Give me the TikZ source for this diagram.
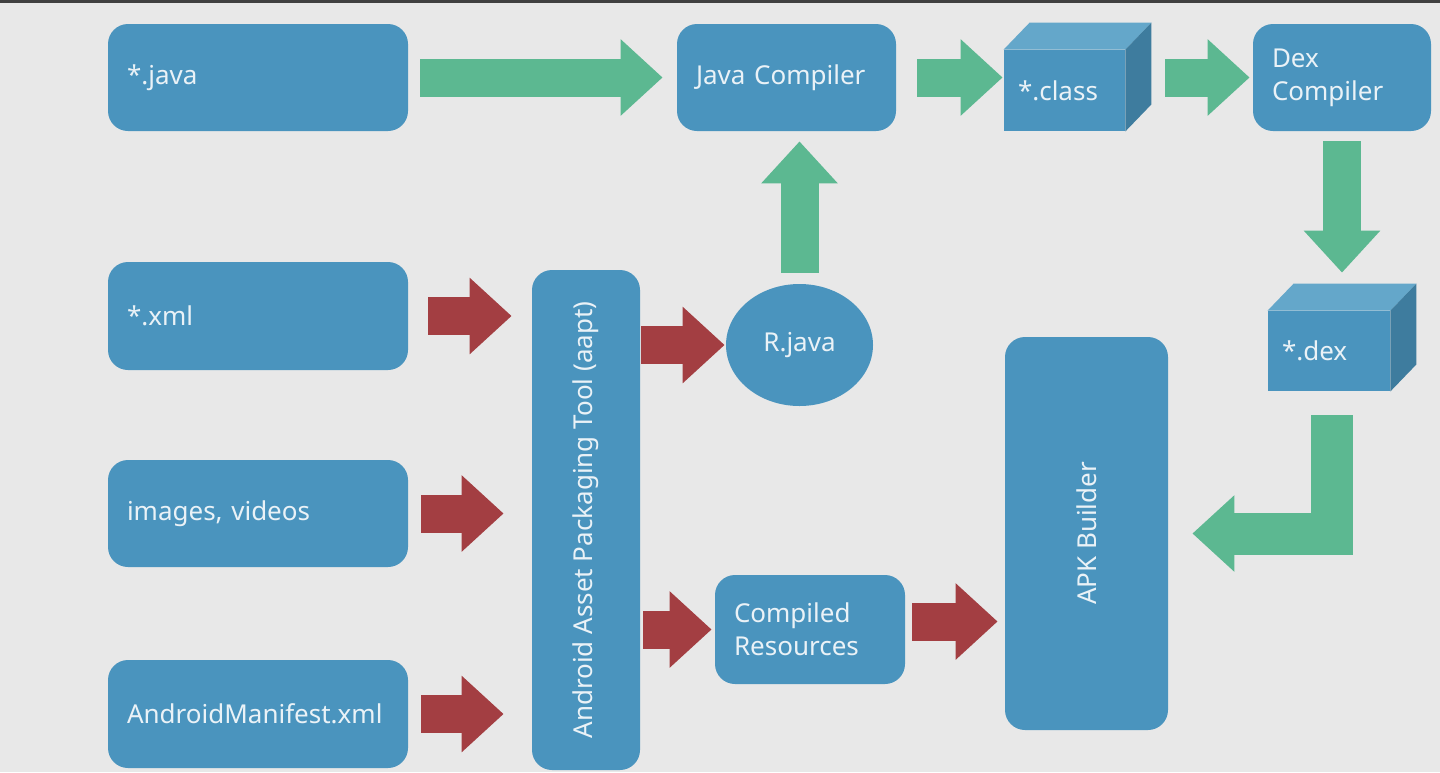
\documentclass[tikz,border=0pt]{standalone}
\usepackage{fontspec}
\setmainfont{Noto Sans}
\usepackage{graphicx}
\usetikzlibrary{arrows.meta,shapes.geometric}

\definecolor{bgGray}{HTML}{E8E8E8}
\definecolor{boxBlue}{HTML}{4A94BE}
\definecolor{boxText}{HTML}{EAF2F7}
\definecolor{cubeTop}{HTML}{64A7CA}
\definecolor{cubeSide}{HTML}{3E7C9E}
\definecolor{flowGreen}{HTML}{5CB891}
\definecolor{flowRed}{HTML}{A33E42}

\tikzset{
  box/.style={rounded corners=10pt, fill=boxBlue, text=boxText,
      font=\fontsize{13}{16.5}\selectfont, align=left, inner xsep=9.5pt, inner ysep=0pt},
  cube/.style={fill=boxBlue, text=boxText, font=\fontsize{13}{16.5}\selectfont,
      align=left, inner xsep=7pt, inner ysep=0pt},
  flow/.style={line width=19pt, -{Triangle[width=37pt,length=21pt]}},
  gflow/.style={flow, draw=flowGreen},
  rflow/.style={flow, draw=flowRed},
}
% top and side faces of a box-shaped node
\newcommand\cubefaces[1]{
  \fill[cubeTop] (#1.north west) -- ++(26,-27) -- ([shift={(26,-27)}]#1.north east) -- (#1.north east) -- cycle;
  \fill[cubeSide] (#1.north east) -- ++(26,-27) -- ([shift={(26,-27)}]#1.south east) -- (#1.south east) -- cycle;
}

\begin{document}
\begin{tikzpicture}[x=0.5pt, y=-0.5pt]
  \fill[bgGray] (0,0) rectangle (1440,772);
  \fill[black!75] (0,0) rectangle (1440,2.5);
  \useasboundingbox (0,0) rectangle (1440,772);

  % sources
  \node[box, minimum height=53.5pt, text width=131pt] (java) at (258,77.5) {*.java};
  \node[box, minimum height=54pt, text width=131pt] (xml) at (258,316) {*.xml};
  \node[box, minimum height=53.5pt, text width=131pt] (media) at (258,513.5) {images, videos};
  \node[box, minimum height=54pt, text width=131pt] (manifest) at (258,714) {AndroidManifest.xml};

  % tools and outputs
  \node[box, minimum height=53.5pt, text width=90.5pt] (javac) at (786.5,77.5) {Java Compiler};
  \node[box, minimum height=53.5pt, text width=70pt] (dexc) at (1342,77.5) {Dex\\Compiler};
  \node[box, inner xsep=0pt, minimum width=54pt, minimum height=250pt] (aapt) at (586,520)
      {\rotatebox{90}{Android Asset Packaging Tool (aapt)}};
  \node[ellipse, fill=boxBlue, text=boxText, font=\fontsize{13}{16.5}\selectfont,
      minimum width=73.5pt, minimum height=61pt, inner sep=0pt] (rjava) at (799.5,345) {R.java};
  \node[box, minimum height=54.5pt, text width=76pt] (res) at (810,629.5) {Compiled\\Resources};
  \node[box, inner xsep=0pt, minimum width=81.5pt, minimum height=196.5pt] (apk) at (1086.5,533.5)
      {\rotatebox{90}{APK Builder}};

  \node[cube, minimum height=40.5pt, text width=46.5pt] (cls) at (1064.5,90.5) {*.class};
  \cubefaces{cls}
  \node[cube, minimum height=40pt, text width=47pt] (dex) at (1329,351) {*.dex};
  \cubefaces{dex}

  % java path
  \draw[gflow, shorten <=6pt, shorten >=7pt] (java) -- (javac);
  \draw[gflow, shorten <=10.5pt, shorten >=0.5pt] (javac.east) -- (javac.east -| cls.west);
  \draw[gflow, shorten <=20pt, shorten >=1.5pt] (dexc.west -| cls.east) -- (dexc.west);
  \draw[gflow, shorten <=5pt, shorten >=19pt] (dexc.south) -- (dexc.south |- dex.north);
  \draw[gflow, shorten <=5.5pt, shorten >=5pt] (rjava.north) -- (rjava.north |- javac.south);
  \draw[gflow, line width=21pt, line join=miter, shorten <=12pt, shorten >=12pt]
      ([xshift=1.5pt]dex.south) |- (apk.east);

  % resource path
  \draw[rflow, shorten <=10pt, shorten >=10pt] (xml.east) -- (xml.east -| aapt.west);
  \draw[rflow, shorten <=6.5pt, shorten >=14pt] (media.east) -- (media.east -| aapt.west);
  \draw[rflow, shorten <=6.5pt, shorten >=14pt] (manifest.east) -- (manifest.east -| aapt.west);
  \draw[rflow, shorten <=0.5pt, shorten >=0.5pt] (rjava.west -| aapt.east) -- (rjava.west);
  \draw[rflow, shorten <=1.5pt, shorten >=1.5pt] (res.west -| aapt.east) -- (res.west);
  \draw[rflow, shorten <=3.5pt, shorten >=3.5pt] ([yshift=4pt]res.east) -- ([yshift=4pt]res.east -| apk.west);
\end{tikzpicture}
\end{document}
